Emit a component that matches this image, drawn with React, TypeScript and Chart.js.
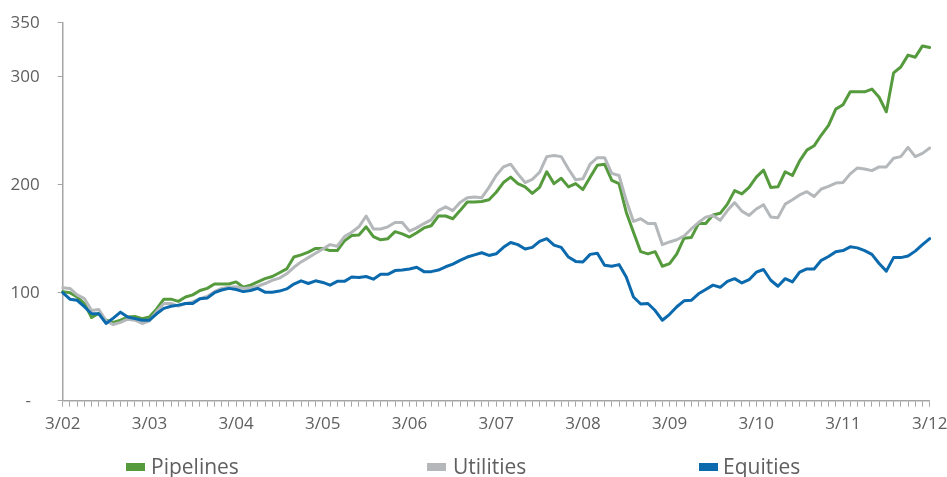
import React, { useEffect, useRef } from 'react';
import { Chart, registerables } from 'chart.js';

Chart.register(...registerables);

// Month labels from 3/02 through 3/12 (monthly)
const categories: string[] = [];
for (let k = 0; k <= 120; k++) {
  const m = ((2 + k) % 12) + 1;
  const y = 2 + Math.floor((2 + k) / 12);
  categories.push(`${m}/${String(y).padStart(2, '0')}`);
}

const yTicks = [0, 100, 200, 300, 350];

const pipelines = [
  101, 100, 96, 90, 77, 81, 74.5, 72.5, 74.5, 77.5, 78, 76,
  77.5, 85, 94, 94, 92, 96, 98, 102, 104, 108, 108, 108,
  110, 105, 107, 110, 113, 115, 118.5, 122, 133, 135, 137.5, 141,
  141, 139, 139, 148, 153, 153.5, 161, 152, 149, 150, 156.5, 154.5,
  151.5, 155.5, 160, 162, 171, 171, 168.5, 176, 184, 184, 184.5, 186,
  193, 202, 207, 201, 198, 192, 197.5, 212, 201, 206, 198, 201,
  195.5, 207, 218, 219, 204, 201, 174.5, 156, 138, 136, 138, 124.5,
  127, 136, 150.5, 151, 164, 164, 172, 173.5, 182, 194.5, 191.5, 197.5,
  207, 213.5, 197.5, 198, 212, 208.5, 222, 232, 236, 246, 255, 270,
  274, 286, 286, 286, 288.5, 281, 267.5, 303.5, 309, 320, 318, 328.5,
  327,
];

const utilities = [
  104.5, 104, 98, 94.5, 83.5, 84.5, 74, 70.5, 72.5, 75.5, 74.5, 71.5,
  74, 82.5, 90, 90, 87.5, 90, 91.5, 94.5, 96.5, 101, 104, 105,
  105.5, 104, 104.5, 106, 108.5, 111.5, 113.5, 117.5, 123.5, 128.5, 132.5, 136.5,
  140.5, 144.5, 143, 152, 156, 161, 171, 159, 159, 161, 165, 165,
  157, 160, 164, 167.5, 176, 179.5, 176, 183.5, 188, 188.5, 188, 197.5,
  208.5, 216.5, 219, 210, 202, 205, 211.5, 226, 227, 226, 214.5, 204.5,
  205.5, 219, 225, 225, 210.5, 208.5, 185.5, 166, 168.5, 164, 164, 144.5,
  147, 149, 152.5, 159, 165, 170, 171.5, 167, 176, 183.5, 175.5, 171.5,
  177.5, 181.5, 170, 169.5, 182, 186, 190.5, 193.5, 189, 196, 198.5, 201.5,
  202, 210, 215.5, 214.5, 213, 216.5, 216.5, 224.5, 226, 234.5, 226, 229,
  234,
];

const equities = [
  100, 94, 93, 87, 80.5, 80.5, 71.5, 76.5, 82, 77.5, 76, 74.5,
  74.5, 80.5, 85.5, 87.5, 88.5, 90, 90, 94.5, 95, 100, 102.5, 104,
  103, 101, 102, 104, 100.5, 100.5, 101.5, 103.5, 108, 111, 108.5, 111,
  109.5, 107, 110.5, 110.5, 114.5, 114, 115, 112.5, 117, 117, 120.5, 121,
  122, 123.5, 119.5, 119.5, 121, 124, 126.5, 130, 133, 135, 137, 134.5,
  136, 142, 146.5, 144.5, 140.5, 142, 147.5, 150, 144, 142, 133, 129,
  128.5, 135.5, 136.5, 125.5, 124.5, 126, 114.5, 96, 89.5, 90, 83.5, 74.5,
  80, 87, 92.5, 93, 99, 103, 107, 105, 110.5, 113, 109, 112,
  119, 121.5, 111.5, 106, 113, 110, 119, 122, 122, 130, 133.5, 138,
  139, 142.5, 141.5, 139, 135.5, 127, 120, 132.5, 132.5, 134, 138.5, 144.5,
  150,
];

const seriesNames = ['Pipelines', 'Utilities', 'Equities'];
const seriesColors = ['#559b3d', '#b5b8bb', '#0b69ad'];

const FONT = "'Open Sans', 'Noto Sans', sans-serif";
const TEXT_COLOR = '#5f5f5f';
const AXIS_COLOR = '#a6a6a6';

export default function App() {
  const canvasRef = useRef<HTMLCanvasElement | null>(null);

  useEffect(() => {
    document.body.style.margin = '0';
    const ctx = canvasRef.current;
    if (!ctx) return;
    const values = [pipelines, utilities, equities];
    const chart = new Chart(ctx, {
      type: 'line',
      data: {
        labels: categories,
        datasets: seriesNames.map((name, i) => ({
          label: name,
          data: values[i],
          borderColor: seriesColors[i],
          backgroundColor: seriesColors[i],
          borderWidth: 3,
          pointRadius: 0,
          pointHoverRadius: 0,
          tension: 0,
          fill: false,
          borderJoinStyle: 'round' as const,
          borderCapStyle: 'round' as const,
          order: 2 - i,
        })),
      },
      options: {
        responsive: false,
        animation: false,
        devicePixelRatio: 1,
        layout: { padding: { top: 22.7, right: 17.3, left: 0, bottom: 0 } },
        plugins: {
          legend: { display: false },
          tooltip: { enabled: false },
        },
        scales: {
          x: {
            type: 'category',
            offset: false,
            grid: {
              display: true,
              drawOnChartArea: false,
              drawTicks: true,
              tickLength: 6,
              color: AXIS_COLOR,
              lineWidth: 1,
            },
            border: { display: true, color: AXIS_COLOR, width: 1.5 },
            ticks: {
              autoSkip: false,
              maxRotation: 0,
              minRotation: 0,
              padding: 7,
              color: TEXT_COLOR,
              font: { family: FONT, size: 17 },
              callback: (_v: any, idx: number) => (idx % 12 === 0 ? categories[idx] : ''),
            },
            afterFit: (s: any) => {
              s.height = 76.3;
              s.paddingLeft = 0;
              s.paddingRight = 0;
            },
          },
          y: {
            type: 'linear',
            min: 0,
            max: 350,
            grid: {
              display: true,
              drawOnChartArea: false,
              drawTicks: true,
              tickLength: 5,
              color: AXIS_COLOR,
              lineWidth: 1,
            },
            border: { display: true, color: AXIS_COLOR, width: 1.5 },
            afterBuildTicks: (s: any) => {
              s.ticks = yTicks.map((v) => ({ value: v }));
            },
            ticks: {
              padding: 18,
              color: TEXT_COLOR,
              font: { family: FONT, size: 17 },
              callback: (v: any) => (Number(v) === 0 ? '-  ' : String(v)),
            },
            afterFit: (s: any) => {
              s.width = 62.7;
              s.paddingTop = 0;
              s.paddingBottom = 0;
            },
          },
        },
      },
    });
    return () => chart.destroy();
  }, []);

  const legendPos = [
    { box: 126, text: 151 },
    { box: 427, text: 453 },
    { box: 699, text: 723 },
  ];

  return (
    <div
      style={{
        position: 'fixed',
        left: 0,
        top: 0,
        width: 947,
        height: 477,
        overflow: 'hidden',
        background: '#ffffff',
      }}
    >
      <canvas ref={canvasRef} width={947} height={477} style={{ display: 'block' }} />
      {seriesNames.map((name, i) => (
        <React.Fragment key={name}>
          <div
            style={{
              position: 'absolute',
              left: legendPos[i].box,
              top: 463.3,
              width: 19,
              height: 7.5,
              background: seriesColors[i],
            }}
          />
          <div
            style={{
              position: 'absolute',
              left: legendPos[i].text,
              top: 456.4,
              fontFamily: FONT,
              fontSize: 21,
              lineHeight: '21px',
              color: TEXT_COLOR,
              whiteSpace: 'nowrap',
            }}
          >
            {name}
          </div>
        </React.Fragment>
      ))}
    </div>
  );
}
